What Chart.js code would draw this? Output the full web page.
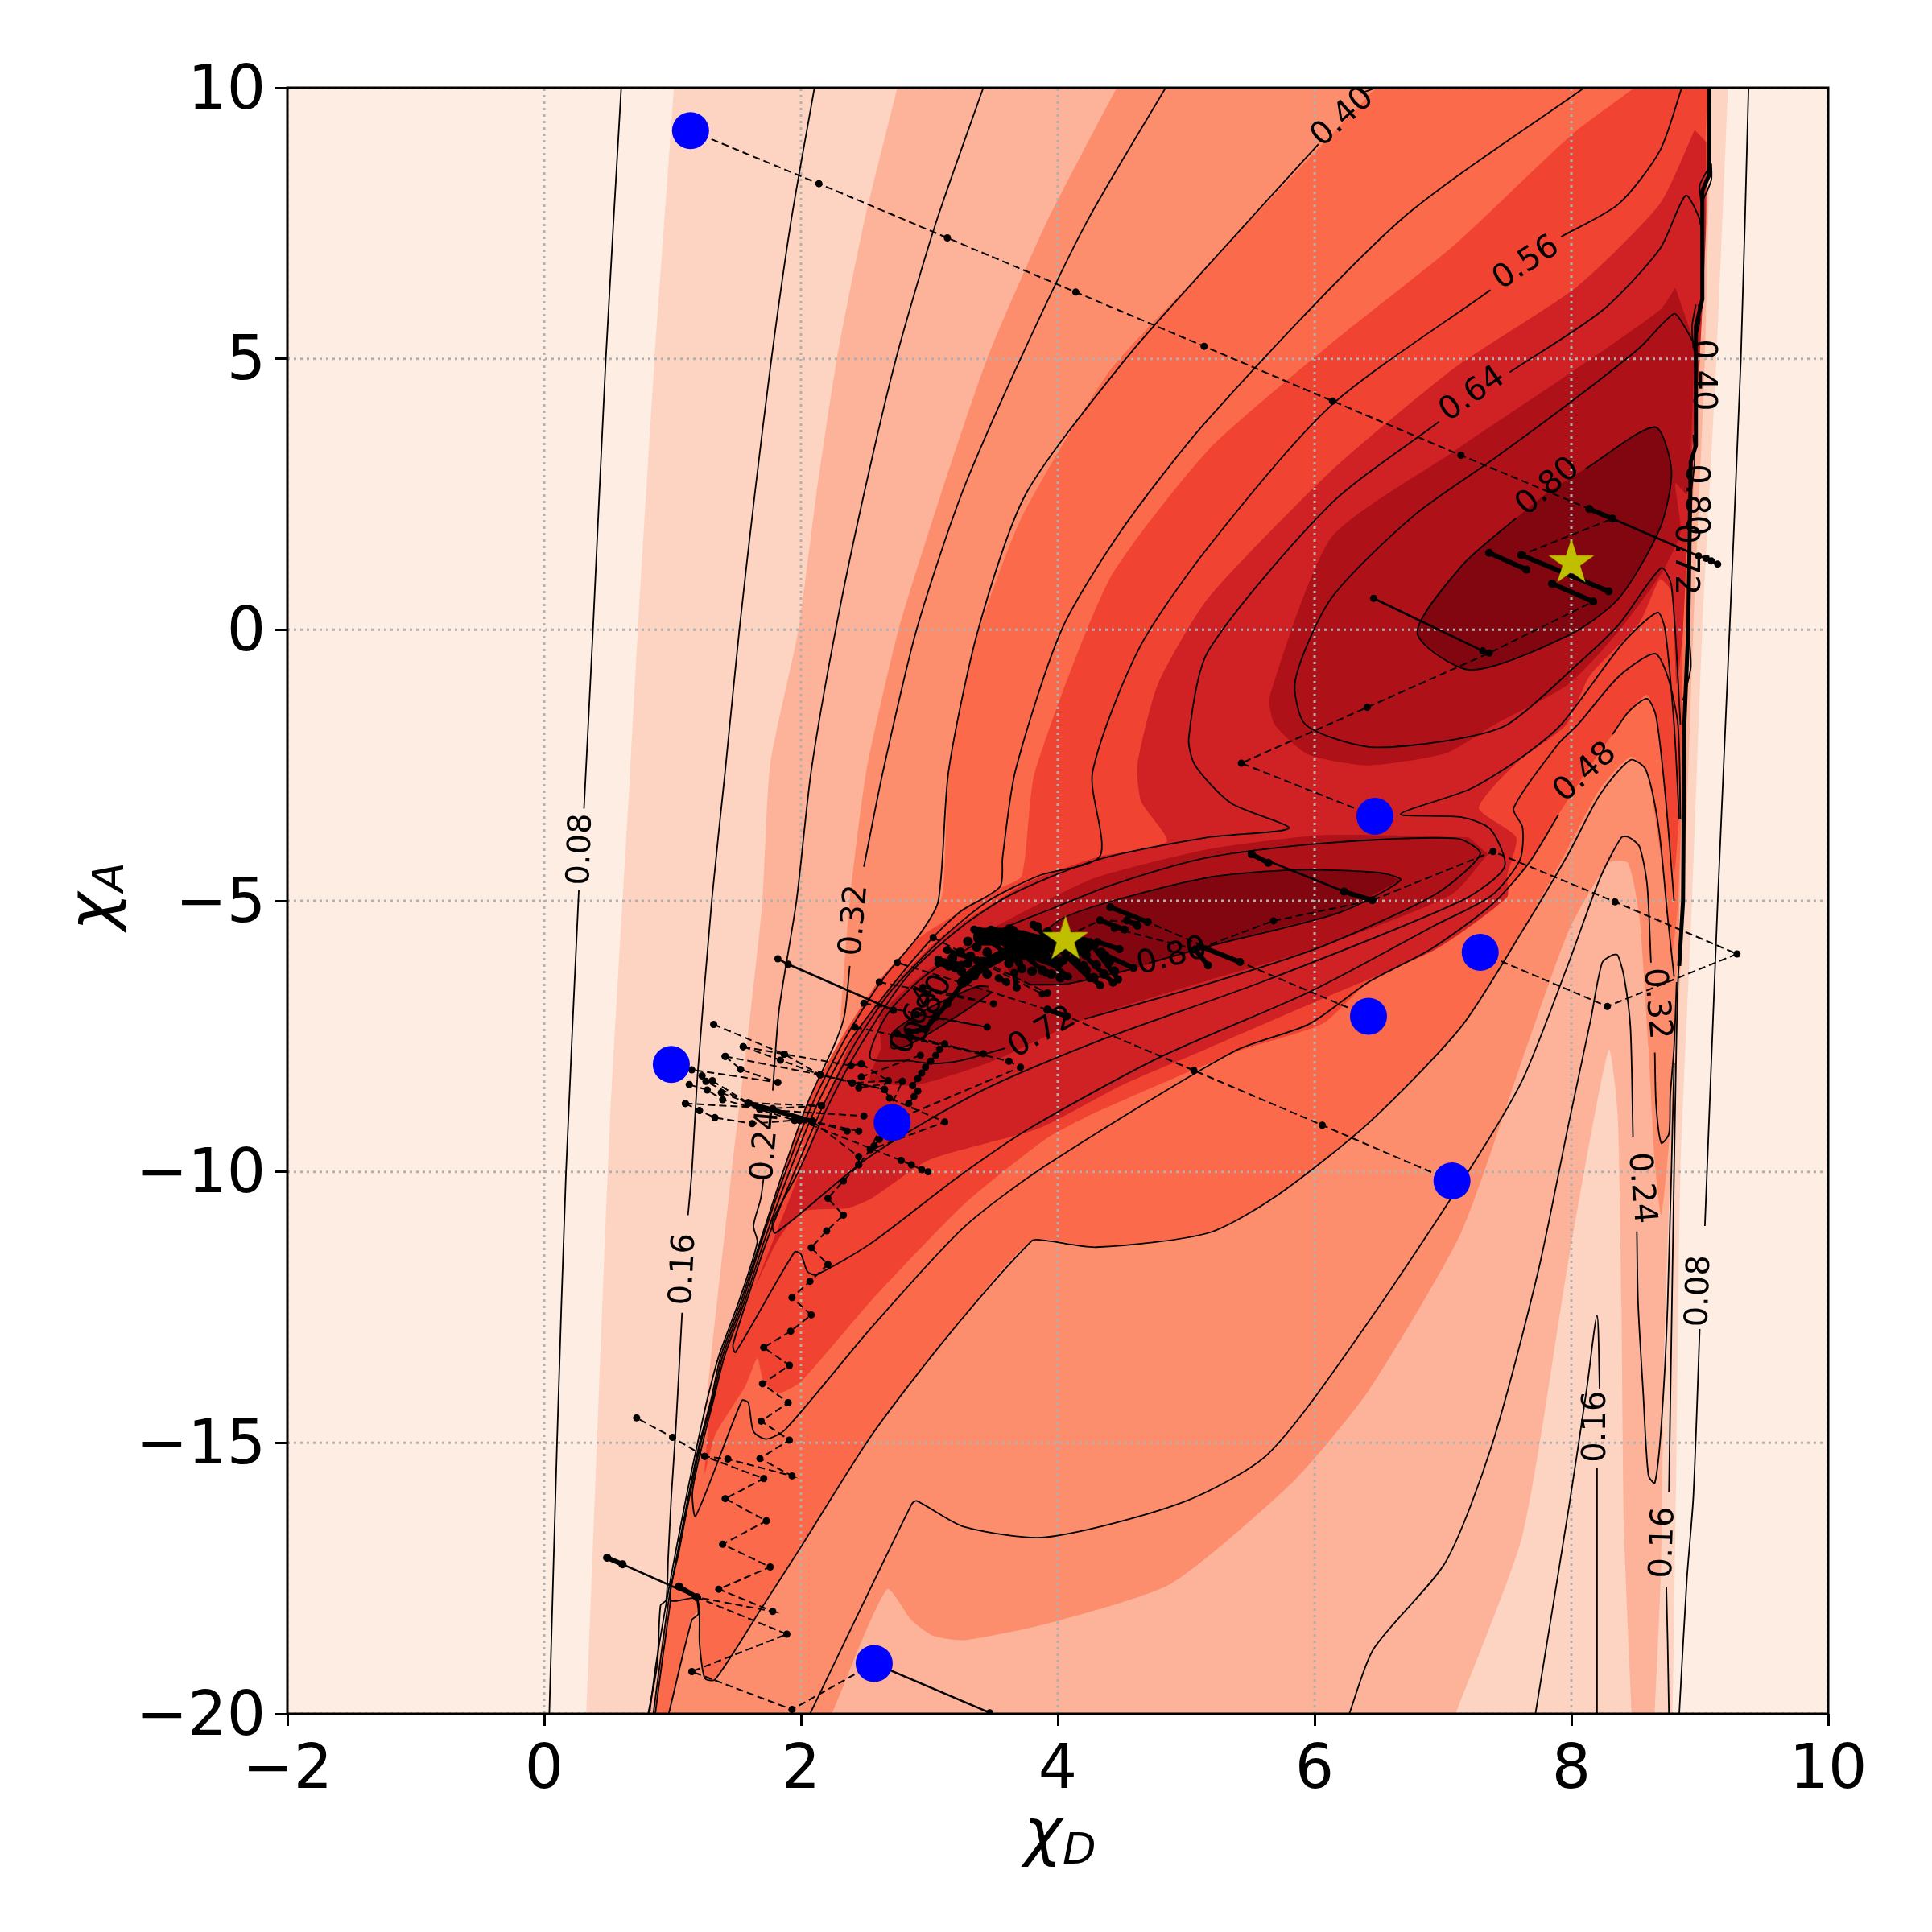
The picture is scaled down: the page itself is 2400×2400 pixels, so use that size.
<!DOCTYPE html>
<html>
<head>
<meta charset="utf-8">
<style>html,body{margin:0;padding:0;background:#fff}</style>
<script src="https://cdn.jsdelivr.net/npm/chart.js@4"></script>
</head>
<body>
<canvas id="contourChart" width="2400" height="2400"></canvas>
<script>
// tick labels
const xTicks = [-2, 0, 2, 4, 6, 8, 10];
const yTicks = [-20, -15, -10, -5, 0, 5, 10];

// filled bands, lightest to darkest, [chi_D, chi_A]; edges run a little past the axes
const band0 = [[-3,11],[11,11],[11,-21],[-3,-21]];
const band1 = [[1.03,11],[1.01,10],[.86,5],[.73,0],[.67,-2.6],[.51,-9.2],[.33,-20],[.3,-21],[8.78,-21],[8.79,-20],[8.82,-15],[8.85,-10],[8.94,-5],[9.02,0],[9.13,5],[9.22,10],[9.24,11]];
const band2 = [[2.85,11],[2.75,10],[2.49,7.5],[2.28,5],[2.12,2.5],[1.98,0],[1.76,-2.5],[1.7,-5],[1.61,-7],[1.46,-10],[1.3,-13.4],[1.22,-15],[.99,-17.7],[.81,-20],[.77,-21],[6.95,-21],[7.1,-20],[7.62,-16.7],[7.98,-11.6],[8.29,-7.75],[8.36,-8.9],[8.39,-12.44],[8.41,-16.6],[8.47,-20],[8.49,-21],[8.63,-21],[8.65,-20],[8.7,-17.2],[8.72,-13.6],[8.77,-10],[8.87,-5.3],[8.95,0],[9.04,5],[9.09,10],[9.11,11]];
const band3 = [[4.7,11],[4.46,10],[3.91,7.5],[3.45,5],[3.09,2.5],[2.76,0],[2.51,-2.6],[2.38,-5],[2.31,-7.1],[2.3,-7.6],[2.05,-8.74],[1.86,-10],[1.68,-11.3],[1.53,-12.4],[1.375,-13.4],[1.3,-14.2],[1.21,-15],[1.13,-15.9],[1.04,-17],[.97,-17.9],[.9,-19.1],[.85,-20],[.82,-21],[2.05,-21],[2.24,-20],[2.67,-17.7],[2.86,-18.27],[3.03,-18.56],[3.27,-18.64],[3.91,-18.34],[4.88,-17.6],[5.84,-15.7],[6.42,-14.04],[7.14,-11.13],[7.62,-7.92],[7.98,-5.55],[8.29,-4.3],[8.44,-4.3],[8.53,-5.3],[8.6,-7.7],[8.65,-9.83],[8.7,-10.8],[8.76,-9.47],[8.8,-7.45],[8.84,-5.3],[8.9,0],[9,5],[9.08,10],[9.1,11]];
const band4 = [[6.9,11],[6.48,10],[5.17,6.72],[4.4,4.76],[3.71,2.03],[3.34,-.36],[3.15,-2.64],[3.1,-4.9],[2.93,-5.6],[2.6,-6.5],[2.3,-7.6],[2.05,-8.74],[1.86,-10],[1.68,-11.3],[1.53,-12.4],[1.375,-13.4],[1.3,-14.2],[1.21,-15],[1.13,-15.9],[1.04,-17],[.97,-17.9],[.9,-19.1],[.85,-20],[.82,-21],[.92,-21],[.97,-20],[1.15,-18.27],[1.2,-18.1],[1.21,-18.7],[1.25,-19.34],[1.33,-19.37],[1.69,-18.06],[2,-16.92],[2.55,-14.86],[3.15,-13.01],[3.8,-11.27],[4.3,-11.39],[5.17,-11.13],[5.7,-10.45],[6.42,-9.1],[7.14,-7.33],[7.62,-5.55],[7.98,-4],[8.22,-2.94],[8.46,-2.34],[8.59,-2.64],[8.72,-4.6],[8.78,-6],[8.83,-5.07],[8.88,-1.75],[8.89,0],[9,5],[9.08,10],[9.1,11]];
const band5 = [[9,11],[8.49,10],[8.01,9.15],[7.09,7.1],[6.13,5.28],[5.17,3.31],[4.4,.92],[3.82,-2.64],[3.72,-4.54],[3.55,-4.77],[2.93,-5.67],[2.6,-6.5],[2.3,-7.6],[2.05,-8.74],[1.86,-10],[1.68,-11.3],[1.53,-12.4],[1.375,-13.4],[1.3,-14.2],[1.25,-15.57],[1.33,-14.86],[1.57,-13.94],[1.66,-13.44],[1.71,-13.87],[1.83,-14.08],[2,-13.87],[2.55,-12.37],[3.27,-10.6],[3.91,-9.39],[4.3,-8.9],[5.4,-7.78],[6.06,-7.27],[6.42,-6.5],[6.9,-5.9],[7.38,-5.07],[7.67,-4.3],[7.9,-3.41],[8.11,-2.64],[8.32,-1.93],[8.45,-1.5],[8.59,-1.2],[8.66,-1.6],[8.73,-3],[8.8,-4.5],[8.85,-3],[8.87,0],[8.98,5],[9.06,10],[9.08,11]];
const band6 = [[8.96,9.22],[8.69,7.86],[8.05,6.34],[7.09,4.83],[6.13,2.93],[5.17,.58],[4.78,-1],[4.62,-2.49],[4.65,-3.17],[4.85,-3.91],[4.3,-4.2],[3.77,-4.65],[3.42,-5.16],[3.06,-5.73],[2.71,-6.58],[2.4,-7.55],[2.1,-9.3],[1.96,-10.2],[1.65,-12.09],[1.81,-11.3],[2,-10.74],[2.36,-10.67],[2.55,-10.49],[3,-9.78],[3.85,-9.2],[4.5,-8.4],[5.17,-7.72],[6.06,-6.81],[6.94,-5.9],[7.5,-4.93],[7.5,-4.54],[7.57,-3.83],[7.28,-3.29],[7.57,-2.46],[7.96,-1.75],[8.14,-.86],[8.53,.13],[8.69,.93],[8.78,.7],[8.82,-1],[8.87,0],[8.93,3],[9,5],[9.05,7.5],[9.05,9]];
const band7Upper = [[8.81,6.31],[8.69,5.9],[8.05,4.83],[7.09,3.3],[6.13,1.7],[5.65,-1.24],[5.69,-1.75],[5.95,-2.3],[6.42,-2.5],[7.02,-2.28],[7.4,-1.75],[7.98,-1],[8.37,-.02],[8.7,1.04],[8.85,1.8],[8.81,2.7],[8.9,2.5],[8.93,3.3],[8.96,5.28]];
const band7Lower = [[7.2,-3.83],[6.06,-3.79],[5.17,-4.05],[4.3,-4.57],[3.77,-5.16],[3.37,-5.67],[2.98,-6.3],[2.62,-7.1],[2.62,-7.72],[2.54,-8.3],[2.89,-8.4],[3.5,-7.95],[4.21,-7.18],[5.17,-6.47],[6.06,-5.84],[7.07,-4.88],[7.35,-4.14]];
const band8Upper = [[8.11,2.97],[8.65,3.74],[8.78,2.93],[8.69,1.87],[8.37,.58],[7.98,-.1],[7.21,-.74],[6.8,-.06],[7.15,1.19],[7.57,2.06],[7.82,2.55]];
const band8Lobe = [[6.67,-4.62],[6.5,-4.48],[5.84,-4.43],[5.17,-4.57],[4.43,-5],[4.03,-5.33],[3.85,-5.67],[3.59,-6.13],[3.64,-6.36],[3.77,-6.55],[4.08,-6.53],[4.56,-6.27],[5.17,-5.84],[6.19,-5.22]];
const band8Small = [[3.46,-6.58],[3.37,-6.58],[2.98,-7],[2.71,-7.44],[2.71,-7.72],[2.84,-7.66],[3.24,-7.09],[3.48,-6.7]];

// contour lines, split where the inline labels sit
const line08a = [[.6,10],[.48,5],[.38,0],[.31,-3.3]];
const line08b = [[.27,-4.8],[.17,-10],[.1,-15],[.04,-20]];
const line08c = [[9.38,10],[9.32,4.98],[9.2,-1.75],[9.14,-5],[9.04,-11]];
const line08d = [[9,-12.9],[8.95,-16],[8.9,-17.5],[8.84,-20]];
const line16a = [[2.105,10],[1.92,7.5],[1.77,5],[1.64,2.5],[1.52,0],[1.41,-2.6],[1.305,-5],[1.195,-8.2],[1.15,-10],[1.12,-10.8]];
const line16b = [[1.074,-12.6],[1.026,-14.7],[.99,-16],[.966,-17.1],[.95,-17.9],[.906,-18],[.88,-19.1],[.81,-20]];
const line16c = [[8.76,-20],[8.75,-18.7],[8.74,-17.67]];
const line16d = [[8.76,-15.9],[8.8,-10],[8.83,-6.5],[8.87,-5.07],[8.88,-2.9]];
const line16e = [[8.2,-20],[8.2,-15.47]];
const line16f = [[8.22,-14],[8.2,-12.65],[8.12,-14],[7.98,-16.2],[7.72,-20]];
const line24a = [[3.42,10],[3.05,7.5],[2.74,5],[2.49,2.5],[2.27,0],[2.08,-2.6],[1.965,-5],[1.83,-7],[1.78,-8.5]];
const line24b = [[1.71,-10.1],[1.686,-10.5],[1.63,-11],[1.66,-11.3],[1.515,-12.4],[1.36,-13.4],[1.27,-14.2],[1.195,-15],[1.115,-15.9],[1.025,-17],[.955,-17.9],[.87,-19.1],[.82,-20]];
const line24c = [[8.8,-8],[8.75,-12.44],[8.7,-14.7],[8.65,-15.74],[8.6,-15.6],[8.56,-14.1],[8.52,-12.44],[8.51,-11.1]];
const line24d = [[8.48,-9.35],[8.46,-7.33],[8.41,-6.4],[8.36,-6],[8.32,-6],[8.24,-6.14],[8.15,-7.2],[7.98,-9.1],[7.74,-11.85],[7.38,-15.05],[7.02,-17.2],[6.46,-18.8],[6.27,-20]];
const line32a = [[4.84,10],[4.22,7.5],[3.71,5],[3.25,2.5],[2.9,0],[2.64,-2.6],[2.49,-4.37]];
const line32b = [[2.38,-6.2],[2.34,-7.1],[2.27,-7.6],[2.05,-8.74],[1.86,-10],[1.68,-11.3],[1.53,-12.4],[1.375,-13.4],[1.3,-14.2],[1.21,-15],[1.13,-15.9],[1.04,-17],[.97,-17.9],[.9,-19.1],[.85,-20]];
const line32c = [[2.07,-20],[2.86,-16.14],[2.9,-16.07],[3.27,-16.55],[3.91,-16.74],[4.97,-16.1],[5.64,-15.2],[6.41,-12.8],[7.21,-9.95],[7.62,-8.3],[7.98,-6.14],[8.22,-4.6],[8.39,-3.83],[8.45,-3.83],[8.53,-4],[8.59,-4.7],[8.62,-6.14]];
const line32d = [[8.65,-7.8],[8.66,-8.76],[8.7,-9.47],[8.76,-9.3],[8.77,-8.6],[8.8,-7.7],[8.82,-6.5]];
const line32e = [[1.19,-17.88],[1.2,-18.16],[1.15,-18.27],[.97,-20]];
const line40a = [[6.03,8.96],[5.17,6.72],[4.53,5],[3.75,2.5],[3.38,0],[3.15,-2.6],[3.07,-5],[2.93,-5.6],[2.62,-6.5],[2.33,-7.6],[2.09,-8.74],[1.88,-10],[1.69,-11.3],[1.545,-12.4],[1.39,-13.4],[1.31,-14.2],[1.22,-15],[1.14,-15.9],[1.05,-17],[.985,-17.9],[1.19,-17.88],[1.21,-18.7],[1.25,-19.34],[1.33,-19.37],[1.69,-18.06],[2,-16.92],[2.55,-14.86],[3.15,-13.01],[3.8,-11.27],[3.91,-11.27],[4.3,-11.39],[5.17,-11.13],[5.7,-10.45],[6.42,-9.1],[7.14,-7.33],[7.62,-5.55],[7.98,-4.12],[8.22,-3.05],[8.46,-2.4],[8.58,-2.58],[8.68,-3.65],[8.75,-5.3],[8.8,-6.4]];
const line40b = [[6.48,10],[6.36,9.9]];
const line40c = [[.985,-17.9],[.915,-19.1],[.865,-20]];
const line48a = [[8.1,10],[6.67,7.56],[5.17,3.88],[4.5,1.85],[4.03,0],[3.67,-2.6],[3.57,-4.2],[3.55,-4.74],[3.24,-5.2],[2.98,-5.8],[2.63,-6.8],[2.38,-7.6],[2.13,-8.74],[1.91,-10],[1.71,-11.3],[1.56,-12.4],[1.405,-13.4],[1.32,-14.2],[1.235,-15],[1.155,-15.9],[1.18,-16.35],[1.54,-14.22],[1.59,-14.26],[1.63,-14.79],[1.73,-14.93],[1.88,-14.75],[2.55,-12.87],[3.27,-11.02],[3.91,-9.88],[5.37,-7.78],[5.96,-7.27],[6.42,-6.5],[6.9,-5.9],[7.38,-5.07],[7.67,-4.3],[7.9,-3.41]];
const line48b = [[8.32,-1.93],[8.45,-1.5],[8.59,-1.27],[8.66,-1.6],[8.73,-3],[8.8,-5]];
const line56a = [[8.86,10],[8.69,8.84],[8.37,7.86],[7.92,7.25]];
const line56b = [[7.37,6.27],[6.13,4.14],[5.17,1.52],[4.63,-.36],[4.27,-2.64],[4.33,-4.17],[3.85,-4.54],[3.46,-5],[3.11,-5.67],[2.71,-6.64],[2.43,-7.6],[2.18,-8.74],[1.95,-10],[1.73,-11.3],[1.575,-12.4],[1.47,-13.2],[1.49,-13.33],[1.95,-11.48],[2,-11.52],[2.05,-11.84],[2.12,-11.9],[2.55,-11.31],[3.22,-10.1],[3.8,-9.17],[4.8,-7.88],[5.97,-6.67],[6.94,-5.45],[7.38,-4.9],[7.6,-4.24],[7.62,-3.65],[7.55,-3.29],[7.9,-2.1],[8.05,-1.75],[8.37,-.86],[8.65,-.44],[8.75,-.86],[8.83,-1.75],[8.85,-3.5]];
const line64a = [[7.52,4.75],[8.24,5.89],[8.69,7.03],[8.89,8.01],[8.99,7.63],[9.02,7.3]];
const line64b = [[6.97,3.84],[6.13,2.33],[5.17,-.4],[5.02,-2],[5.07,-2.5],[5.35,-3.2],[5.8,-3.66],[5.17,-3.83],[4.3,-4.25],[3.64,-4.88],[3.24,-5.5],[2.84,-6.36],[2.48,-7.6],[2.22,-8.74],[1.98,-10],[1.78,-10.9],[1.8,-11.13],[2.54,-9.71],[3.41,-8.5],[4.3,-7.6],[5.62,-6.47],[7.15,-4.99],[7.48,-4.37],[7.37,-3.68],[7.15,-3.46],[6.67,-3.4],[7.21,-2.94],[7.62,-2.34],[7.92,-1.75],[8.4,-.25],[8.67,.32],[8.73,0],[8.8,-1.75],[8.84,-3.5]];
const line72a = [[8.95,5.3],[8.88,5.6],[8.8,5.83],[8.53,5.2],[8.05,4.3],[7.4,3.16],[6.77,2.1],[6.13,.58],[5.85,-.93],[5.93,-1.75],[6.42,-2.16],[7.02,-2.05],[7.5,-1.75],[8.05,-.63],[8.37,.1],[8.7,1.14],[8.78,.81],[8.85,-1.75]];
const line72b = [[4.21,-7.18],[5.17,-6.53],[6.06,-5.84],[6.94,-4.88],[7.29,-4.14],[7.11,-3.85],[6.06,-3.94],[5.17,-4.2],[4.43,-4.7],[3.94,-5.16],[3.59,-5.5],[2.98,-6.36],[2.67,-7.1],[2.54,-7.9],[2.84,-7.95],[3.02,-8],[3.24,-7.95],[3.59,-7.72]];
const line80a = [[8.11,2.97],[8.65,3.74],[8.78,2.93],[8.69,1.87],[8.37,.58],[7.98,-.1],[7.21,-.74],[6.8,-.06],[7.15,1.19],[7.57,2.06]];
const line80b = [[4.71,-6.15],[5.17,-5.84],[6.19,-5.22],[6.67,-4.62],[6.5,-4.48],[5.84,-4.43],[5.17,-4.57],[4.43,-5],[4.03,-5.33],[3.85,-5.67]];
const line80c = [[3.77,-6.55],[4.08,-6.53],[4.56,-6.27]];
const line80d = [[3.46,-6.58],[3.37,-6.58],[2.98,-7],[2.71,-7.44],[2.71,-7.72],[2.84,-7.66],[3.24,-7.09],[3.48,-6.7]];
const rightBundle = [[9.075,10],[9.075,8.4],[9.02,8.1],[9.02,6.1],[8.97,5.6],[8.97,3.4],[8.93,3.1],[8.91,0],[8.88,-1.75],[8.87,-5],[8.84,-6.2]];
const rightFrayA = [[9.09,8.6],[9.09,8.3],[9.03,7.95]];
const rightFrayB = [[9.065,8.5],[9.0,8.2],[9.01,7.9]];
const rightFrayC = [[8.99,6],[9.0,5.7],[8.95,5.2]];
const rightFrayD = [[8.97,6],[8.94,5.6],[8.95,5.2]];
const rightFrayE = [[8.95,3.6],[8.96,3.1],[8.93,2.5]];
const rightFrayF = [[8.92,-.2],[8.93,-.7],[8.87,-1.3]];

// inline contour labels: chi_D, chi_A, text, angle in degrees
const contourLabels = [
  [.29,-4.05,'0.08',-88],[1.09,-11.8,'0.16',-87],[1.73,-9.52,'0.24',-85],[2.42,-5.36,'0.32',-85],
  [6.22,9.45,'0.40',-42],[7.65,6.76,'0.56',-33],[7.23,4.34,'0.64',-35],[7.82,2.63,'0.80',-40],
  [8.11,-2.64,'0.48',-42],[3.88,-7.44,'0.72',-30],[4.89,-6.04,'0.80',-15],[8.66,-6.9,'0.32',85],
  [8.54,-10.3,'0.24',85],[8.2,-14.7,'0.16',-90],[8.72,-16.84,'0.16',-88],[9,-12.2,'0.08',-88],
  [9.02,4.7,'0.40',90],[8.96,2.4,'0.80',90],[8.88,1.3,'0.72',90],[2.89,-7.2,'0.64',-65],[3,-7,'0.80',-65]
];

// optimiser runs, each list is the order of the steps
const runTop = [[1.14,9.21],[2.14,8.23],[3.14,7.23],[4.14,6.23],[5.14,5.23],[6.14,4.22],[7.14,3.22],[8.14,2.23],[8.32,2.05],[7.61,1.38]];
const runSaddle = [[6.47,-3.44],[5.43,-2.46],[6.41,-1.43],[7.36,-.43],[8.17,.52]];
const runRight = [[7.29,-5.95],[8.28,-6.95],[9.29,-5.98],[8.34,-5.02],[7.39,-4.09],[6.45,-4.99],[5.68,-5.37],[5.08,-5.9],[4.44,-5.51]];
const runMiddle = [[6.42,-7.13],[5.42,-6.13],[4.7,-5.39],[4.33,-5.36],[4.1,-5.62]];
const runLower = [[7.07,-10.17],[6.06,-9.14],[5.06,-8.13],[4.07,-7.13],[3.92,-7.01],[2.75,-6.14]];
const runNorthA = [[3.03,-5.68],[3.88,-6.72],[3.92,-6.7],[3.4,-6.1]];
const runNorthB = [[2.61,-6.5],[3.5,-6.9],[2.95,-6.6]];
const runNorthC = [[2.49,-6.89],[3.45,-7.33],[2.9,-7.1]];
const runNorthD = [[2.42,-7.33],[3.42,-7.82],[2.85,-7.5]];
const runNorthE = [[2.71,-9.07],[3.71,-8.07],[3.62,-7.96],[2.75,-7.45]];
const runEastA = [[2.47,-8.01],[2.68,-8.32],[2.4,-8.36]];
const runEastB = [[2.65,-8.48],[2.69,-8.64],[3.12,-9.08],[2.54,-9.59],[2.79,-8.33],[2.45,-8.45]];
const runEastC = [[2.93,-7.85],[2.47,-8.25]];
const runWestA = [[1.32,-7.28],[1.87,-7.83],[2.15,-8.21],[2.4,-8.36]];
const runWestB = [[1.55,-7.69],[1.84,-7.94],[2.15,-8.21],[2.65,-8.48]];
const runWestC = [[1.55,-7.69],[1.87,-7.83],[2.39,-8.04],[2.47,-8.01]];
const runWestD = [[1.41,-7.87],[1.53,-8.11],[1.82,-8.35],[1.15,-8.12]];
const runWestE = [[1.41,-7.87],[2.15,-8.21],[2.65,-8.48]];
const runWestF = [[1.31,-8.32],[1.59,-8.73],[2.16,-8.78]];
const runWestG = [[1.23,-8.23],[1.26,-8.33],[1.68,-8.85],[2.49,-8.97]];
const runWestH = [[1.13,-8.39],[1.27,-8.49],[1.39,-8.67],[1.68,-8.85],[1.95,-9.05],[2.09,-9.07],[2.36,-9.25]];
const runWestI = [[1.38,-8.54],[1.59,-8.73],[2.09,-9.07],[2.45,-9.25]];
const runWestJ = [[1.1,-8.74],[1.78,-8.83],[2.16,-8.78]];
const runWestK = [[1.1,-8.74],[1.21,-8.87],[1.33,-9],[1.62,-9.11],[1.95,-9.05]];
const runWestL = [[2.09,-9.07],[2.45,-9.72],[2.45,-9.87]];
const runWestM = [[1.99,-9.05],[2.78,-9.79],[2.86,-9.87],[2.94,-9.96],[2.99,-10]];
const runZigzag = [[2.71,-9.09],[2.61,-9.4],[2.57,-9.52],[2.54,-9.59],[2.45,-9.87],[2.33,-10.17],[2.21,-10.49],[2.33,-10.8],[2.2,-11.09],[2.08,-11.4],[2.21,-11.71],[2.07,-12.02],[1.93,-12.32],[2.08,-12.64],[1.92,-12.94],[1.71,-13.24],[1.91,-13.57],[1.7,-13.91],[1.9,-14.26],[1.69,-14.6],[1.91,-14.95],[1.68,-15.29],[1.93,-15.61],[1.43,-15.3],[1.25,-15.25],[1.71,-15.66],[1.41,-16.03],[1.73,-16.44],[1.39,-16.87],[1.76,-17.29],[1.36,-17.7],[1.78,-18.11],[1.19,-17.85]];
const runBottom = [[2.57,-19.07],[1.93,-19.92],[1.15,-19.22],[1.89,-18.53],[1.19,-17.85]];
const runWestTail = [[1.25,-15.25],[1,-14.9],[.72,-14.54]];
const runUp = [[2.84,-8.74],[2.88,-8.61],[2.91,-8.51],[2.87,-8.41],[2.91,-8.28],[2.94,-8.18],[2.97,-8.07],[3.01,-7.96],[3.05,-7.85],[3.08,-7.74],[3.12,-7.64]];

// stretches where the steps are so small that they merge into a solid line
const steadyRuns = [
  [[8.32,2.05],[8.99,1.36],[9.05,1.32],[9.09,1.27],[9.14,1.21]],
  [[7.31,-.39],[6.46,.58]],
  [[.49,-17.12],[.61,-17.24],[1.19,-17.85]],
  [[2.57,-19.07],[3.47,-19.98]],
  [[1.82,-6.07],[1.9,-6.17],[2.72,-7.02]],
  [[6.45,-4.99],[6.23,-4.83],[5.51,-4.14]]
];
const denseRuns = [
  [[8.14,2.23],[8.32,2.05]],[[7.61,1.38],[8.29,.71]],[[7.36,1.42],[7.65,1.11]],[[7.85,.85],[8.17,.52]],
  [[.49,-17.12],[.61,-17.24]],[[1.05,-17.65],[1.19,-17.85]],
  [[5.51,-4.14],[5.64,-4.3]],[[6.23,-4.83],[6.45,-4.99]],
  [[3.35,-5.53],[3.7,-6.15]],[[3.48,-5.53],[3.91,-6.33]],[[3.62,-5.51],[4.08,-6.4]],[[3.81,-5.44],[4.25,-6.43]],
  [[3.95,-5.76],[4.33,-6.56]],[[4.12,-5.81],[4.43,-6.51]],[[4.25,-5.76],[4.47,-6.45]],[[4.31,-5.76],[4.48,-5.89]],
  [[4.37,-6],[4.59,-6.24]],[[3.14,-5.91],[3.37,-6.1]],[[3.07,-6.08],[3.25,-6.18]],[[3.07,-6.15],[3.2,-6.25]],
  [[3.54,-6.43],[3.6,-6.5]],[[3.66,-6.33],[3.68,-6.6]],
  [[4.41,-5.12],[4.7,-5.39]],[[4.33,-5.36],[4.52,-5.53]],[[4.54,-5.36],[4.62,-5.46]],
  [[5.11,-5.84],[5.42,-6.13]],[[5.07,-5.9],[5.17,-6.19]],
  [[3.92,-7.01],[4.07,-7.13]],[[1.59,-8.73],[2.09,-9.07]],
  [[2.84,-7.42],[2.97,-7.37],[3.05,-7.14],[3.14,-6.9],[3.26,-6.52],[3.41,-6.25]]
];
// the pile-up of steps around the lower minimum
const pileUpA = [[3.41,-5.66],[3.62,-5.66],[3.83,-5.78],[4.2,-5.83]];
const pileUpB = [[3.26,-6.5],[3.41,-6.2],[3.6,-5.96],[3.83,-6],[4,-6.15]];
const pileUpDots = [[3.38,-5.56],[3.45,-5.62],[3.52,-5.7],[3.6,-5.78],[3.68,-5.86],[3.5,-5.56],[3.58,-5.64],[3.66,-5.72],[3.74,-5.8],[3.82,-5.9],[3.9,-6],[3.65,-5.55],[3.73,-5.63],[3.81,-5.71],[3.9,-5.81],[3.98,-5.95],[4.04,-6.1],[3.84,-5.48],[3.92,-5.58],[4,-5.7],[4.08,-5.85],[4.14,-6],[4.2,-6.2],[3.98,-5.8],[4.06,-5.95],[4.14,-6.1],[4.22,-6.28],[4.28,-6.42],[4.15,-5.85],[4.22,-6],[4.3,-6.18],[4.36,-6.35],[4.28,-5.82],[4.34,-5.95],[4.4,-6.12],[4.44,-6.3],[3.3,-5.75],[3.37,-5.85],[3.45,-5.95],[3.53,-6.05],[3.62,-6.15],[3.72,-6.25],[3.8,-6.3],[3.88,-6.28],[3.95,-6.35],[4.02,-6.42],[3.24,-5.95],[3.32,-6.02],[3.42,-6.12],[3.18,-6.05],[3.3,-6.15],[3.15,-6.2],[3.25,-6.3],[3.35,-6.38],[3.45,-6.35]];

const startPoints = [[1.14,9.21],[6.47,-3.44],[7.29,-5.95],[6.42,-7.13],[7.07,-10.17],[.99,-8.02],[2.71,-9.09],[2.57,-19.07]];
const starPoints = [[8,1.25],[4.06,-5.7]];

const pts = a => a.map(p => ({x: p[0], y: p[1]}));

const layers = [];
function addBand(points, color, tension) {
  layers.push({data: pts(points), showLine: true, fill: 'shape', backgroundColor: color, borderColor: color, borderWidth: 0, pointRadius: 0, tension: tension});
}
function addContour(points) {
  layers.push({data: pts(points), showLine: true, fill: false, borderColor: '#000', borderWidth: 1.8, pointRadius: 0, tension: 0.25});
}

addBand(band0, '#FEEDE3', 0);
addBand(band1, '#FDD4C2', 0.2);
addBand(band2, '#FCB399', 0.2);
addBand(band3, '#FC8E6E', 0.2);
addBand(band4, '#FB6A4A', 0.2);
addBand(band5, '#F14331', 0.2);
addBand(band6, '#D02224', 0.2);
addBand(band7Upper, '#AE1117', 0.2);
addBand(band7Lower, '#AE1117', 0.2);
addBand(band8Upper, '#810610', 0.2);
addBand(band8Lobe, '#810610', 0.2);
addBand(band8Small, '#810610', 0.2);

// dotted grid sits above the fills and below the lines
xTicks.forEach(v => layers.push({data: [{x: v, y: -20}, {x: v, y: 10}], showLine: true, borderColor: '#b0b0b0', borderWidth: 3, borderDash: [3, 5], pointRadius: 0}));
yTicks.forEach(v => layers.push({data: [{x: -2, y: v}, {x: 10, y: v}], showLine: true, borderColor: '#b0b0b0', borderWidth: 3, borderDash: [3, 5], pointRadius: 0}));

[line08a, line08b, line08c, line08d, line16a, line16b, line16c, line16d, line16e, line16f,
 line24a, line24b, line24c, line24d, line32a, line32b, line32c, line32d, line32e, line40a, line40b, line40c,
 line48a, line48b, line56a, line56b, line64a, line64b, line72a, line72b, line80a, line80b, line80c, line80d,
 rightFrayA, rightFrayB, rightFrayC, rightFrayD, rightFrayE, rightFrayF].forEach(addContour);
layers.push({data: pts(rightBundle), showLine: true, borderColor: '#000', borderWidth: 5, pointRadius: 0});

[runTop, runSaddle, runRight, runMiddle, runLower, runNorthA, runNorthB, runNorthC, runNorthD, runNorthE,
 runEastA, runEastB, runEastC, runWestA, runWestB, runWestC, runWestD, runWestE, runWestF, runWestG, runWestH,
 runWestI, runWestJ, runWestK, runWestL, runWestM, runZigzag, runBottom, runWestTail, runUp].forEach(r => {
  layers.push({data: pts(r), showLine: true, borderColor: '#000', borderWidth: 2, borderDash: [9, 5], pointRadius: 4.5, pointBackgroundColor: '#000', pointBorderWidth: 0});
});
steadyRuns.forEach(r => layers.push({data: pts(r), showLine: true, borderColor: '#000', borderWidth: 2.6, pointRadius: 4.5, pointBackgroundColor: '#000', pointBorderWidth: 0}));
denseRuns.forEach(r => layers.push({data: pts(r), showLine: true, borderColor: '#000', borderWidth: 6, borderCapStyle: 'round', pointRadius: 5, pointBackgroundColor: '#000', pointBorderWidth: 0}));
layers.push({data: pts(pileUpA), showLine: true, borderColor: '#000', borderWidth: 22, borderCapStyle: 'round', pointRadius: 0});
layers.push({data: pts(pileUpB), showLine: true, borderColor: '#000', borderWidth: 14, borderCapStyle: 'round', pointRadius: 0});
layers.push({data: pts(pileUpDots), showLine: false, pointRadius: 6, pointBackgroundColor: '#000', pointBorderWidth: 0});

// blue starts and yellow minima
layers.push({data: pts(startPoints), showLine: false, pointRadius: 23, pointBackgroundColor: '#0000ff', pointBorderWidth: 0});
const starIcon = document.createElement('canvas');
starIcon.width = 60;
starIcon.height = 60;
const sc = starIcon.getContext('2d');
sc.fillStyle = '#bfbf00';
sc.beginPath();
for (let i = 0; i < 10; i++) {
  const r = i % 2 ? 11.5 : 30;
  const a = -Math.PI / 2 + i * Math.PI / 5;
  sc.lineTo(30 + r * Math.cos(a), 31 + r * Math.sin(a));
}
sc.closePath();
sc.fill();
layers.push({data: pts(starPoints), showLine: false, pointStyle: starIcon, pointRadius: 30});

const overlay = {
  id: 'overlay',
  afterDraw(chart) {
    const {ctx, chartArea: a, scales} = chart;
    ctx.save();
    ctx.beginPath();
    ctx.rect(a.left, a.top, a.width, a.height);
    ctx.clip();
    ctx.fillStyle = '#000';
    ctx.font = '40px "DejaVu Sans"';
    ctx.textAlign = 'center';
    ctx.textBaseline = 'middle';
    contourLabels.forEach(l => {
      ctx.save();
      ctx.translate(scales.x.getPixelForValue(l[0]), scales.y.getPixelForValue(l[1]));
      ctx.rotate(l[3] * Math.PI / 180);
      ctx.fillText(l[2], 0, 0);
      ctx.restore();
    });
    ctx.restore();
    ctx.strokeStyle = '#000';
    ctx.lineWidth = 3;
    ctx.strokeRect(a.left, a.top, a.width, a.height);
    // axis names with their subscripts
    ctx.fillStyle = '#000';
    ctx.textAlign = 'left';
    ctx.textBaseline = 'alphabetic';
    ctx.font = 'italic 80px "DejaVu Sans"';
    ctx.fillText('χ', 1272, 2302);
    ctx.font = 'italic 54px "DejaVu Sans"';
    ctx.fillText('D', 1320, 2315);
    ctx.save();
    ctx.translate(140, 1156);
    ctx.rotate(-Math.PI / 2);
    ctx.font = 'italic 80px "DejaVu Sans"';
    ctx.fillText('χ', 0, 0);
    ctx.font = 'italic 54px "DejaVu Sans"';
    ctx.fillText('A', 48, 13);
    ctx.restore();
  }
};

new Chart(document.getElementById('contourChart'), {
  type: 'scatter',
  data: {datasets: layers.slice().reverse()},
  plugins: [overlay],
  options: {
    responsive: false,
    animation: false,
    events: [],
    layout: {padding: {top: 109, right: 129, left: 0, bottom: 0}},
    plugins: {legend: {display: false}, tooltip: {enabled: false}},
    scales: {
      x: {
        type: 'linear', min: -2, max: 10,
        afterFit(s) { s.height = 271; },
        afterBuildTicks(s) { s.ticks = xTicks.map(v => ({value: v})); },
        grid: {display: true, drawOnChartArea: false, drawTicks: true, tickLength: 15, tickWidth: 3, tickColor: '#000'},
        border: {display: false},
        ticks: {color: '#000', maxRotation: 0, autoSkip: false, padding: 12, font: {family: '"DejaVu Sans"', size: 76},
          callback: v => String(v).replace('-', '\u2212')}
      },
      y: {
        type: 'linear', min: -20, max: 10,
        afterFit(s) { s.width = 357; },
        afterBuildTicks(s) { s.ticks = yTicks.map(v => ({value: v})); },
        grid: {display: true, drawOnChartArea: false, drawTicks: true, tickLength: 15, tickWidth: 3, tickColor: '#000'},
        border: {display: false},
        ticks: {color: '#000', autoSkip: false, padding: 12, labelOffset: 6, font: {family: '"DejaVu Sans"', size: 76},
          callback: v => String(v).replace('-', '\u2212')}
      }
    }
  }
});
</script>
</body>
</html>
